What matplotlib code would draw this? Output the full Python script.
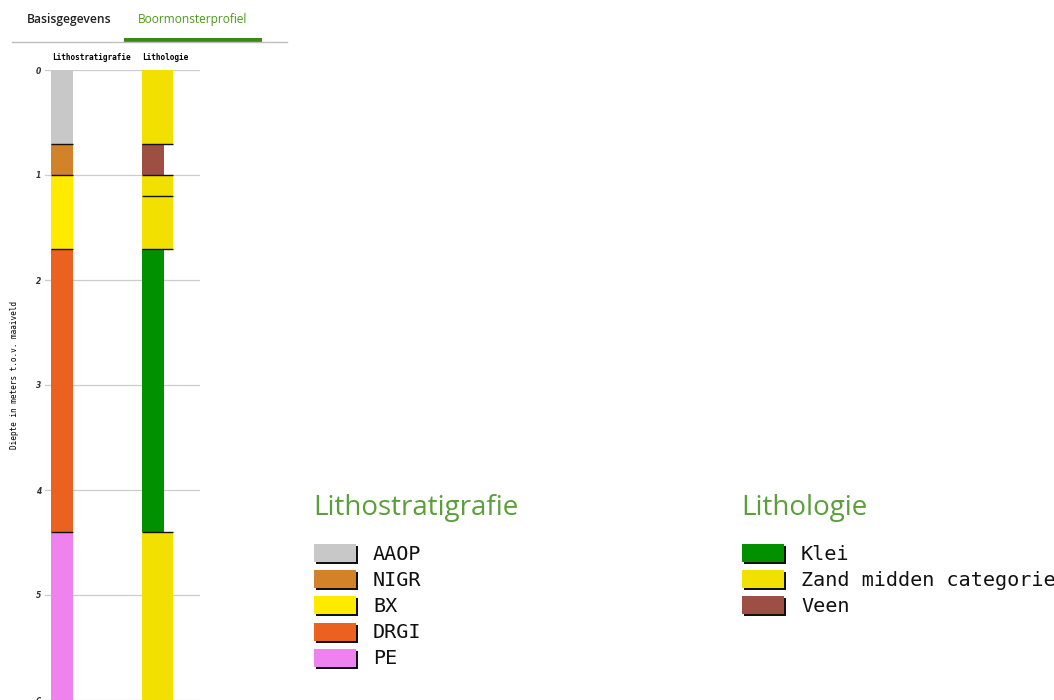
import matplotlib.pyplot as plt
from matplotlib.patches import Rectangle

# Lithostratigrafie layers (depth in m below surface)
strat_names = ['AAOP', 'NIGR', 'BX', 'DRGI', 'PE']
strat_top = [0.0, 0.7, 1.0, 1.7, 4.4]
strat_bottom = [0.7, 1.0, 1.7, 4.4, 6.2]
strat_colors = ['#c8c8c8', '#d2832a', '#ffea00', '#eb6120', '#ee82ee']

# Lithologie layers
lith_names = ['Zand midden categorie', 'Veen', 'Zand midden categorie',
              'Zand midden categorie', 'Klei', 'Zand midden categorie']
lith_top = [0.0, 0.7, 1.0, 1.2, 1.7, 4.4]
lith_bottom = [0.7, 1.0, 1.2, 1.7, 4.4, 6.2]
lith_legend = ['Klei', 'Zand midden categorie', 'Veen']
lith_colors = {'Klei': '#009000', 'Zand midden categorie': '#f2e100', 'Veen': '#9c4f42'}
lith_width = {'Klei': 22, 'Zand midden categorie': 31, 'Veen': 22}

depth_ticks = [0, 1, 2, 3, 4, 5, 6]

W, H = 1054, 700
fig = plt.figure(figsize=(W / 100, H / 100), dpi=100)
fig.patch.set_facecolor('white')

# profile axes: pixel x 45..200, y 70..700
ax = fig.add_axes([45 / W, 0, 155 / W, 630 / H])
ax.set_xlim(0, 155)
ax.set_ylim(6, 0)
for s in ax.spines.values():
    s.set_visible(False)
ax.set_xticks([])
ax.set_yticks(depth_ticks)
ax.set_yticklabels([str(d) for d in depth_ticks], fontsize=5.5,
                   fontstyle='italic', fontweight='bold', color='#333333')
ax.tick_params(axis='y', length=0, pad=3)
ax.grid(axis='y', color='#cccccc', lw=0.9)
ax.set_axisbelow(True)

# lithostratigrafie column
sx = 6
for top, bot, c in zip(strat_top, strat_bottom, strat_colors):
    ax.bar(sx, bot - top, bottom=top, width=22, align='edge', color=c,
           edgecolor='none', zorder=2)
    if top > 0:
        ax.hlines(top, sx, sx + 22, color='#111111', lw=1, zorder=3)

# lithologie column
lx = 97
prev_w = 0
for top, bot, name in zip(lith_top, lith_bottom, lith_names):
    w = lith_width[name]
    ax.bar(lx, bot - top, bottom=top, width=w, align='edge',
           color=lith_colors[name], edgecolor='none', zorder=2)
    if top > 0:
        ax.hlines(top, lx, lx + max(w, prev_w), color='#111111', lw=1, zorder=3)
    prev_w = w

ax.text(sx + 1, -0.12, 'Lithostratigrafie', fontsize=5.6, family='DejaVu Sans Mono',
        fontweight='bold', ha='left', va='center', clip_on=False)
ax.text(lx, -0.12, 'Lithologie', fontsize=5.6, family='DejaVu Sans Mono',
        fontweight='bold', ha='left', va='center', clip_on=False)
fig.text(15 / W, 1 - 375 / H, 'Diepte in meters t.o.v. maaiveld', rotation=90,
         fontsize=5.6, family='DejaVu Sans Mono', ha='center', va='center')

# overlay in pixel units for tabs and legends
ov = fig.add_axes([0, 0, 1, 1], zorder=-1)
ov.set_xlim(0, W)
ov.set_ylim(H, 0)
ov.axis('off')

ov.text(27, 19, 'Basisgegevens', fontsize=8.7, family='Open Sans',
        fontweight='semibold', color='#222222', ha='left', va='center')
ov.text(138, 19, 'Boormonsterprofiel', fontsize=8.6, family='Open Sans',
        color='#4c9a1a', ha='left', va='center')
ov.plot([12, 287], [42, 42], color='#bdbdbd', lw=1)
ov.add_patch(Rectangle((124, 37.5), 138, 4.5, color='#3a8a0f', lw=0))

legend_green = '#5b9f3a'


def draw_legend(x0, title, names, colors):
    ov.text(x0 - 1, 508, title, fontsize=20, family='Open Sans',
            color=legend_green, ha='left', va='center')
    for i, (n, c) in enumerate(zip(names, colors)):
        yc = 554 + i * 26.2
        ov.add_patch(Rectangle((x0 + 2, yc - 8), 42, 18, color='#111111', lw=0))
        ov.add_patch(Rectangle((x0, yc - 10), 42, 18, color=c, lw=0))
        ov.text(x0 + 59, yc, n, fontsize=14.5, family='DejaVu Sans Mono',
                color='#111111', ha='left', va='center')


draw_legend(314, 'Lithostratigrafie', strat_names, strat_colors)
draw_legend(742, 'Lithologie', lith_legend, [lith_colors[n] for n in lith_legend])

fig.savefig('out.png', dpi=100)
